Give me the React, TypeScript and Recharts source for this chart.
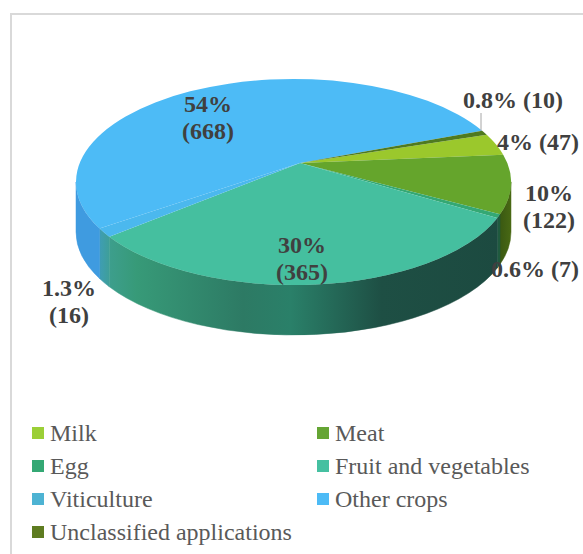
import { PieChart, Pie, Cell, Legend } from 'recharts';

const categories = ['Milk', 'Meat', 'Egg', 'Fruit and vegetables', 'Viticulture', 'Other crops', 'Unclassified applications'];
const counts = [47, 122, 7, 365, 16, 668, 10];
const percentLabels = ['4%', '10%', '0.6%', '30%', '1.3%', '54%', '0.8%'];
const colors = ['#9BCF37', '#65A534', '#34A874', '#45C0A1', '#4DB3D3', '#4DBBF6', '#5E7C20'];
const topFills = ['#9BC82C', '#65A52C', '#34A874', '#45BF9F', '#4BB8EE', '#4DBBF6', '#4F7A20'];
const wallFills = ['#5d8a1c', 'url(#wallMeat)', '#1f5a3f', 'url(#wallFruit)', 'url(#wallVit)', '#3f9be0', '#3d5a10'];

// where each label sits: centre x, first baseline y, one or two lines
const labelSpots = [
  { x: 538, y: 150, lines: 1 },
  { x: 549, y: 201, lines: 2 },
  { x: 535, y: 277, lines: 1 },
  { x: 302, y: 253, lines: 2 },
  { x: 69, y: 296, lines: 2 },
  { x: 208, y: 112, lines: 2 },
  { x: 513, y: 108, lines: 1 },
];

const chartData = categories.map((name, i) => ({ name, value: counts[i] }));

// fake 3D: the pie apex is off the centre of the rim ellipse, like a perspective view
const RIM = { cx: 293.5, cy: 182, rx: 217.5, ry: 103 };
const DEPTH = 50;
const TILT = 0.44;

// ray from the apex at the slice angle, hits the rim ellipse at parameter t
function rimParam(apexX: number, apexY: number, angle: number) {
  const a = (angle * Math.PI) / 180;
  const dx = Math.cos(a) / RIM.rx;
  const dy = (-Math.sin(a) * TILT) / RIM.ry;
  const ox = (apexX - RIM.cx) / RIM.rx;
  const oy = (apexY - RIM.cy) / RIM.ry;
  const A = dx * dx + dy * dy;
  const B = 2 * (ox * dx + oy * dy);
  const C = ox * ox + oy * oy - 1;
  const s = (-B + Math.sqrt(B * B - 4 * A * C)) / (2 * A);
  return Math.atan2(oy + s * dy, ox + s * dx);
}

const rimX = (t: number) => RIM.cx + RIM.rx * Math.cos(t);
const rimY = (t: number) => RIM.cy + RIM.ry * Math.sin(t);

function arcTo(t0: number, t1: number, dy: number) {
  const large = Math.abs(t1 - t0) > Math.PI ? 1 : 0;
  const sweep = t1 > t0 ? 1 : 0;
  return `A${RIM.rx} ${RIM.ry} 0 ${large} ${sweep} ${rimX(t1)} ${rimY(t1) + dy}`;
}

function Slice3D(props: any) {
  const { cx, cy, startAngle, endAngle, index } = props;
  const t0 = rimParam(cx, cy, startAngle);
  let t1 = rimParam(cx, cy, endAngle);
  while (t1 < t0) t1 += Math.PI * 2;

  const walls: string[] = [];
  [0, Math.PI * 2].forEach((base) => {
    const a = Math.max(t0, base);
    const b = Math.min(t1, base + Math.PI);
    if (b > a) {
      walls.push(
        `M${rimX(a)} ${rimY(a)}${arcTo(a, b, 0)}L${rimX(b)} ${rimY(b) + DEPTH}${arcTo(b, a, DEPTH)}Z`,
      );
    }
  });

  return (
    <g>
      {walls.map((d, i) => (
        <path key={i} d={d} fill={wallFills[index]} stroke={wallFills[index]} strokeWidth={0.5} />
      ))}
      <path d={`M${cx} ${cy}L${rimX(t0)} ${rimY(t0)}${arcTo(t0, t1, 0)}Z`} fill={topFills[index]} />
    </g>
  );
}

function SliceLabel(props: any) {
  const { index, value } = props;
  const spot = labelSpots[index];
  const pct = percentLabels[index];
  return (
    <text x={spot.x} y={spot.y} textAnchor="middle" fontFamily="Liberation Serif" fontWeight="bold" fontSize={24} fill="#404040">
      {spot.lines === 1 ? (
        `${pct} (${value})`
      ) : (
        <>
          <tspan x={spot.x}>{pct}</tspan>
          <tspan x={spot.x} dy={27}>{`(${value})`}</tspan>
        </>
      )}
    </text>
  );
}

function LeaderLine(props: any) {
  if (props.index !== 6) return <g />;
  return <line x1={481} y1={113} x2={481} y2={131} stroke="#A6A6A6" strokeWidth={1} />;
}

function LegendGrid({ payload }: any) {
  return (
    <div style={{ position: 'relative', width: 583, height: 130, fontFamily: 'Liberation Serif', fontSize: 24, color: '#595959' }}>
      {(payload || []).map((entry: any, i: number) => (
        <div
          key={entry.value}
          style={{
            position: 'absolute',
            left: i % 2 === 0 ? 32 : 317,
            top: Math.floor(i / 2) * 33,
            height: 26,
            lineHeight: '26px',
            whiteSpace: 'nowrap',
          }}
        >
          <span style={{ position: 'absolute', left: 0, top: 7, width: 12, height: 12, background: colors[i] }} />
          <span style={{ marginLeft: 18 }}>{entry.value}</span>
        </div>
      ))}
    </div>
  );
}

export default function App() {
  return (
    <div style={{ position: 'absolute', left: 0, top: 0, width: 583, height: 554, overflow: 'hidden', background: '#fff' }}>
      <div style={{ position: 'absolute', left: 10, top: 13, width: 580, height: 550, borderLeft: '2px solid #D9D9D9', borderTop: '2px solid #D9D9D9' }} />
      <PieChart
        width={583}
        height={554}
        margin={{ top: 0, right: 0, bottom: 0, left: 0 }}
        style={{ position: 'absolute', left: 0, top: 0 }}
      >
        <defs>
          <linearGradient id="wallFruit" gradientUnits="userSpaceOnUse" x1={105} y1={0} x2={500} y2={0}>
            <stop offset="0" stopColor="#3E9F90" />
            <stop offset="0.08" stopColor="#379A78" />
            <stop offset="0.35" stopColor="#2D7A64" />
            <stop offset="0.47" stopColor="#2A8069" />
            <stop offset="0.7" stopColor="#1E4F44" />
            <stop offset="1" stopColor="#1C4A40" />
          </linearGradient>
          <linearGradient id="wallVit" gradientUnits="userSpaceOnUse" x1={85} y1={0} x2={112} y2={0}>
            <stop offset="0" stopColor="#3F9BE0" />
            <stop offset="1" stopColor="#3E9F90" />
          </linearGradient>
          <linearGradient id="wallMeat" gradientUnits="userSpaceOnUse" x1={490} y1={0} x2={512} y2={0}>
            <stop offset="0" stopColor="#2C4A10" />
            <stop offset="1" stopColor="#4A6A14" />
          </linearGradient>
        </defs>
        <Pie
          data={chartData}
          dataKey="value"
          nameKey="name"
          cx={300}
          cy={163}
          outerRadius={217}
          startAngle={19}
          endAngle={-341}
          stroke="none"
          isAnimationActive={false}
          shape={Slice3D}
          label={SliceLabel}
          labelLine={LeaderLine}
        >
          {chartData.map((_, i) => (
            <Cell key={i} fill={colors[i]} />
          ))}
        </Pie>
        <Legend
          content={<LegendGrid />}
          itemSorter={null}
          wrapperStyle={{ position: 'absolute', left: 0, top: 420, width: 583, bottom: 'auto' }}
        />
      </PieChart>
    </div>
  );
}
